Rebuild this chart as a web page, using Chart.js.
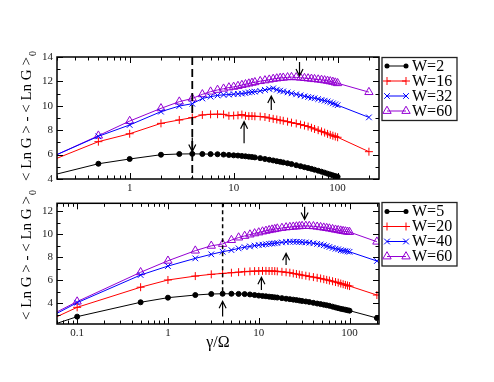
<!DOCTYPE html>
<html><head><meta charset="utf-8">
<script src="https://cdn.jsdelivr.net/npm/chart.js@4.4.0/dist/chart.umd.min.js"></script>
<style>
html,body{margin:0;padding:0;background:#fff;}
#wrap{position:relative;width:494px;height:382px;overflow:hidden;background:#fff;}
#c1{position:absolute;left:0;top:0;}
#c2{position:absolute;left:0;top:190px;}
</style></head><body>
<div id="wrap"><canvas id="c1" width="494" height="196"></canvas><canvas id="c2" width="494" height="192"></canvas></div>
<script>
// ---------- DATA ----------
const topX = [0.1,0.5,1,2,3,4,5,6,7,8,9,10,11,12,13,14,15,16,18,20,22,24,26,28,30,33,36,40,44,48,52,56,60,65,70,75,80,85,90,95,100,200];
const topW2  = [3.77,5.25,5.64,5.99,6.05,6.06,6.05,6.04,6.03,6.0,5.97,5.94,5.92,5.89,5.86,5.83,5.8,5.77,5.71,5.64,5.58,5.52,5.46,5.41,5.36,5.29,5.22,5.13,5.05,4.97,4.9,4.83,4.76,4.68,4.6,4.52,4.44,4.37,4.3,4.24,4.18,null];
const topW16 = [4.67,7.06,7.71,8.56,8.84,9.03,9.25,9.3,9.31,9.3,9.18,9.2,9.22,9.28,9.18,9.15,9.16,9.14,9.12,9.08,9.0,8.93,8.88,8.82,8.77,8.7,8.62,8.55,8.46,8.38,8.3,8.2,8.1,8.0,7.9,7.8,7.7,7.62,7.55,7.48,7.42,6.24];
const topW32 = [4.87,7.5,8.43,9.52,9.98,10.17,10.6,10.75,10.85,10.9,10.92,10.95,10.98,11.0,11.04,11.1,11.13,11.16,11.22,11.3,11.38,11.43,11.32,11.24,11.18,11.1,11.02,10.94,10.86,10.78,10.72,10.67,10.62,10.55,10.48,10.42,10.36,10.28,10.2,10.12,10.05,9.05];
const topW60 = [4.83,7.55,8.75,9.79,10.34,10.6,10.94,11.16,11.3,11.4,11.5,11.55,11.62,11.7,11.76,11.82,11.88,11.93,12.02,12.08,12.14,12.2,12.24,12.28,12.3,12.33,12.35,12.33,12.3,12.27,12.24,12.21,12.18,12.15,12.12,12.08,12.04,12.0,11.96,11.9,11.85,11.12];
const topLabels = ['W=2','W=16','W=32','W=60'];

const botX = [0.05,0.1,0.5,1,2,3,4,5,6,7,8,9,10,11,12,13,14,15,16,18,20,22,24,26,28,30,33,36,40,44,48,52,56,60,65,70,75,80,85,90,95,100,200];
const botW5  = [2.05,2.84,4.09,4.49,4.72,4.81,4.83,4.83,4.82,4.8,4.77,4.72,4.67,4.64,4.61,4.58,4.55,4.52,4.5,4.45,4.4,4.36,4.32,4.28,4.24,4.2,4.16,4.11,4.04,3.98,3.93,3.88,3.83,3.78,3.71,3.64,3.58,3.52,3.48,3.44,3.4,3.36,2.72];
const botW20 = [2.55,3.65,5.4,6.03,6.37,6.52,6.6,6.66,6.71,6.75,6.78,6.8,6.81,6.82,6.82,6.81,6.81,6.8,6.78,6.74,6.7,6.66,6.6,6.55,6.5,6.45,6.4,6.34,6.28,6.22,6.16,6.1,6.04,5.98,5.92,5.85,5.8,5.72,5.66,5.6,5.55,5.5,4.72];
const botW40 = [2.8,4.05,6.46,7.24,7.91,8.26,8.49,8.63,8.78,8.88,8.95,9.02,9.07,9.1,9.14,9.17,9.2,9.22,9.25,9.3,9.34,9.36,9.36,9.35,9.34,9.32,9.3,9.27,9.22,9.17,9.12,9.05,8.98,8.9,8.82,8.75,8.7,8.62,8.58,8.55,8.52,8.48,7.68];
const botW60 = [2.93,4.15,6.7,7.7,8.58,9.0,9.16,9.5,9.72,9.86,9.98,10.08,10.16,10.24,10.3,10.36,10.41,10.45,10.5,10.55,10.6,10.63,10.66,10.68,10.7,10.72,10.73,10.72,10.7,10.66,10.62,10.58,10.54,10.5,10.45,10.4,10.36,10.32,10.28,10.25,10.22,10.2,9.36];
const botLabels = ['W=5','W=20','W=40','W=60'];

const topXTicks = [1,10,100];
const botXTicks = [0.1,1,10,100];
const topYTicks = [4,6,8,10,12,14];
const botYTicks = [4,6,8,10,12];

// annotation positions (data space): arrows [x, tailY, tipY]
const topArrows = [[4,7.4,6.25],[12.6,6.93,8.7],[23,9.66,10.8],[43,13.6,12.44]];
const botArrows = [[4,2.85,4.18],[10.7,5.16,6.26],[20,7.33,8.35],[32,12.4,11.3]];

// ---------- STYLE ----------
const SERIF = "'Liberation Serif','Times New Roman',serif";
const colors = ['#000000','#ff0000','#0000ff','#9400d3'];
const fills  = ['#000000','#ff0000','#0000ff','rgba(0,0,0,0)'];
const styles = ['circle','cross','crossRot','triangle'];
const radii  = [2.5,4,4,4.8];

function drawMark(ctx, style, x, y, r, color) {
  ctx.save();
  ctx.strokeStyle = color; ctx.fillStyle = color; ctx.lineWidth = 1;
  ctx.beginPath();
  if (style === 'circle') { ctx.arc(x, y, r, 0, Math.PI*2); ctx.fill(); }
  else if (style === 'cross') { ctx.moveTo(x-r,y); ctx.lineTo(x+r,y); ctx.moveTo(x,y-r); ctx.lineTo(x,y+r); ctx.stroke(); }
  else if (style === 'crossRot') { const d=r*0.7071; ctx.moveTo(x-d,y-d); ctx.lineTo(x+d,y+d); ctx.moveTo(x-d,y+d); ctx.lineTo(x+d,y-d); ctx.stroke(); }
  else if (style === 'triangle') {
    for (let i=0;i<3;i++){ const a=i*2*Math.PI/3; const px=x+Math.sin(a)*r, py=y-Math.cos(a)*r; if(i===0) ctx.moveTo(px,py); else ctx.lineTo(px,py);} ctx.closePath(); ctx.stroke(); }
  ctx.restore();
}

const deco = {
  id: 'deco',
  afterDatasetsDraw(chart, args, o) {
    const ctx = chart.ctx, ca = chart.chartArea, xs = chart.scales.x, ys = chart.scales.y;
    ctx.save();
    ctx.save();
    ctx.beginPath(); ctx.rect(ca.left, ca.top, ca.right-ca.left, ca.bottom-ca.top); ctx.clip();
    ctx.strokeStyle = '#000'; ctx.lineWidth = o.dashW; ctx.setLineDash(o.dash);
    const dx = xs.getPixelForValue(o.vline);
    ctx.beginPath(); ctx.moveTo(dx, ys.getPixelForValue(o.vTop)); ctx.lineTo(dx, ys.getPixelForValue(o.vBot)); ctx.stroke();
    ctx.setLineDash([]);
    ctx.lineWidth = 1.2;
    o.arrows.forEach(a => {
      const ax = xs.getPixelForValue(a[0]), t = ys.getPixelForValue(a[1]), h = ys.getPixelForValue(a[2]);
      const dir = h < t ? -1 : 1;
      ctx.beginPath(); ctx.moveTo(ax, t); ctx.lineTo(ax, h);
      ctx.moveTo(ax-3.5, h - dir*7); ctx.lineTo(ax, h); ctx.lineTo(ax+3.5, h - dir*7);
      ctx.stroke();
    });
    ctx.restore();
    // frame
    ctx.strokeStyle = '#000'; ctx.lineWidth = 1.5;
    ctx.strokeRect(ca.left, ca.top, ca.right-ca.left, ca.bottom-ca.top);
    // ticks (inward, all four sides)
    ctx.lineWidth = 1;
    ctx.beginPath();
    const k0 = Math.floor(Math.log10(xs.min)), k1 = Math.ceil(Math.log10(xs.max));
    for (let k=k0;k<=k1;k++) for (let m=1;m<=9;m++) {
      const v = m*Math.pow(10,k);
      if (v < xs.min*0.999 || v > xs.max*1.001) continue;
      const px = Math.round(xs.getPixelForValue(v))+0.5, L = (m===1)?6:3.5;
      ctx.moveTo(px, ca.bottom); ctx.lineTo(px, ca.bottom-L);
      ctx.moveTo(px, ca.top); ctx.lineTo(px, ca.top+L);
    }
    for (let v=Math.ceil(ys.min); v<=Math.floor(ys.max); v++) {
      const py = Math.round(ys.getPixelForValue(v))+0.5, L = (v%2===0)?6:3.5;
      ctx.moveTo(ca.left, py); ctx.lineTo(ca.left+L, py);
      ctx.moveTo(ca.right, py); ctx.lineTo(ca.right-L, py);
    }
    ctx.stroke();
    // legend
    const lg = o.legend;
    ctx.fillStyle = '#fff'; ctx.fillRect(lg.x, lg.y, lg.w, lg.h);
    ctx.strokeStyle = '#222'; ctx.lineWidth = 1.3; ctx.strokeRect(lg.x, lg.y, lg.w, lg.h);
    ctx.font = '16px ' + SERIF; ctx.textBaseline = 'middle'; ctx.textAlign = 'left';
    chart.data.datasets.forEach((d, i) => {
      const y = lg.y + lg.first + i*lg.step;
      ctx.strokeStyle = colors[i]; ctx.lineWidth = 1;
      ctx.beginPath(); ctx.moveTo(lg.x+5, y); ctx.lineTo(lg.x+24, y); ctx.stroke();
      drawMark(ctx, styles[i], lg.x+5, y, radii[i], colors[i]);
      drawMark(ctx, styles[i], lg.x+24, y, radii[i], colors[i]);
      ctx.fillStyle = '#000';
      ctx.fillText(d.label, lg.x+30, y+0.5);
    });
    // y title with subscript
    ctx.save();
    ctx.translate(o.titleX, o.titleY); ctx.rotate(-Math.PI/2);
    const main = '< Ln G > - < Ln G >';
    ctx.font = '15px ' + SERIF; const w1 = ctx.measureText(main).width;
    ctx.font = '10px ' + SERIF; const w2 = ctx.measureText('0').width;
    const sx = -(w1 + w2 + 1)/2;
    ctx.fillStyle = '#000'; ctx.textBaseline = 'middle'; ctx.textAlign = 'left';
    ctx.font = '15px ' + SERIF; ctx.fillText(main, sx, 0);
    ctx.font = '10px ' + SERIF; ctx.fillText('0', sx + w1 + 1, 6);
    ctx.restore();
    ctx.restore();
  }
};

function makeChart(id, cfg) {
  const datasets = cfg.series.map((s, i) => ({
    label: cfg.labels[i],
    data: cfg.x.map((xv, j) => s[j] == null ? null : {x: xv, y: s[j]}).filter(p => p),
    borderColor: colors[i], backgroundColor: fills[i],
    pointStyle: styles[i], pointRadius: radii[i],
    pointBorderColor: colors[i], pointBackgroundColor: fills[i],
    pointBorderWidth: 1, borderWidth: 1, tension: 0, fill: false
  }));
  const fmtTickFont = {family: SERIF, size: 11};
  const chart = new Chart(document.getElementById(id), {
    type: 'line',
    data: {datasets},
    plugins: [deco],
    options: {
      responsive: false, animation: false, devicePixelRatio: 1,
      layout: {padding: {left: 0, top: cfg.area.top, right: 494 - cfg.area.right, bottom: cfg.padBottom}},
      plugins: {legend: {display: false}, tooltip: {enabled: false}, deco: cfg.deco},
      scales: {
        x: {
          type: 'logarithmic', min: cfg.xmin, max: cfg.xmax,
          grid: {display: false, drawTicks: false}, border: {display: false},
          afterBuildTicks: s => { s.ticks = cfg.xTicks.map(v => ({value: v})); },
          afterFit: s => { s.height = cfg.xHeight; },
          ticks: {autoSkip: false, maxRotation: 0, padding: 3, font: fmtTickFont, color: '#222',
                  callback: v => String(v)},
          title: cfg.xTitle ? {display: true, text: cfg.xTitle, font: {family: SERIF, size: 16}, color: '#000', padding: {top: 0, bottom: 12}} : {display: false}
        },
        y: {
          type: 'linear', min: cfg.ymin, max: cfg.ymax,
          grid: {display: false, drawTicks: false}, border: {display: false},
          afterBuildTicks: s => { s.ticks = cfg.yTicks.map(v => ({value: v})); },
          afterFit: s => { s.width = cfg.area.left; },
          ticks: {autoSkip: false, padding: 4, font: fmtTickFont, color: '#222', callback: v => String(v)}
        }
      }
    }
  });
  const ca = chart.chartArea, p = chart.options.layout.padding;
  p.top += cfg.area.top - ca.top;
  p.bottom += ca.bottom - cfg.area.bottom;
  p.right += ca.right - cfg.area.right;
  chart.update('none');
  return chart;
}

makeChart('c1', {
  x: topX, series: [topW2, topW16, topW32, topW60], labels: topLabels,
  xmin: 0.2, xmax: 250, ymin: 4, ymax: 14,
  xTicks: topXTicks, yTicks: topYTicks,
  area: {left: 57, top: 57, right: 379, bottom: 179}, xHeight: 17, padBottom: 0,
  deco: {vline: 4, vTop: 14, vBot: 4, dash: [8,4], dashW: 1.8, arrows: topArrows,
         legend: {x: 382, y: 57.5, w: 75, h: 63, first: 8.5, step: 15},
         titleX: 27, titleY: 116}
});
makeChart('c2', {
  x: botX, series: [botW5, botW20, botW40, botW60], labels: botLabels,
  xmin: 0.06, xmax: 211, ymin: 2.2, ymax: 12.7,
  xTicks: botXTicks, yTicks: botYTicks,
  area: {left: 57, top: 13.3, right: 379, bottom: 134}, xHeight: 40, padBottom: 18,
  xTitle: 'γ/Ω',
  deco: {vline: 4, vTop: 12.7, vBot: 5.0, dash: [4,3], dashW: 1.5, arrows: botArrows,
         legend: {x: 382, y: 12.5, w: 75, h: 63.5, first: 9, step: 15},
         titleX: 27, titleY: 65}
});
</script>
</body></html>
